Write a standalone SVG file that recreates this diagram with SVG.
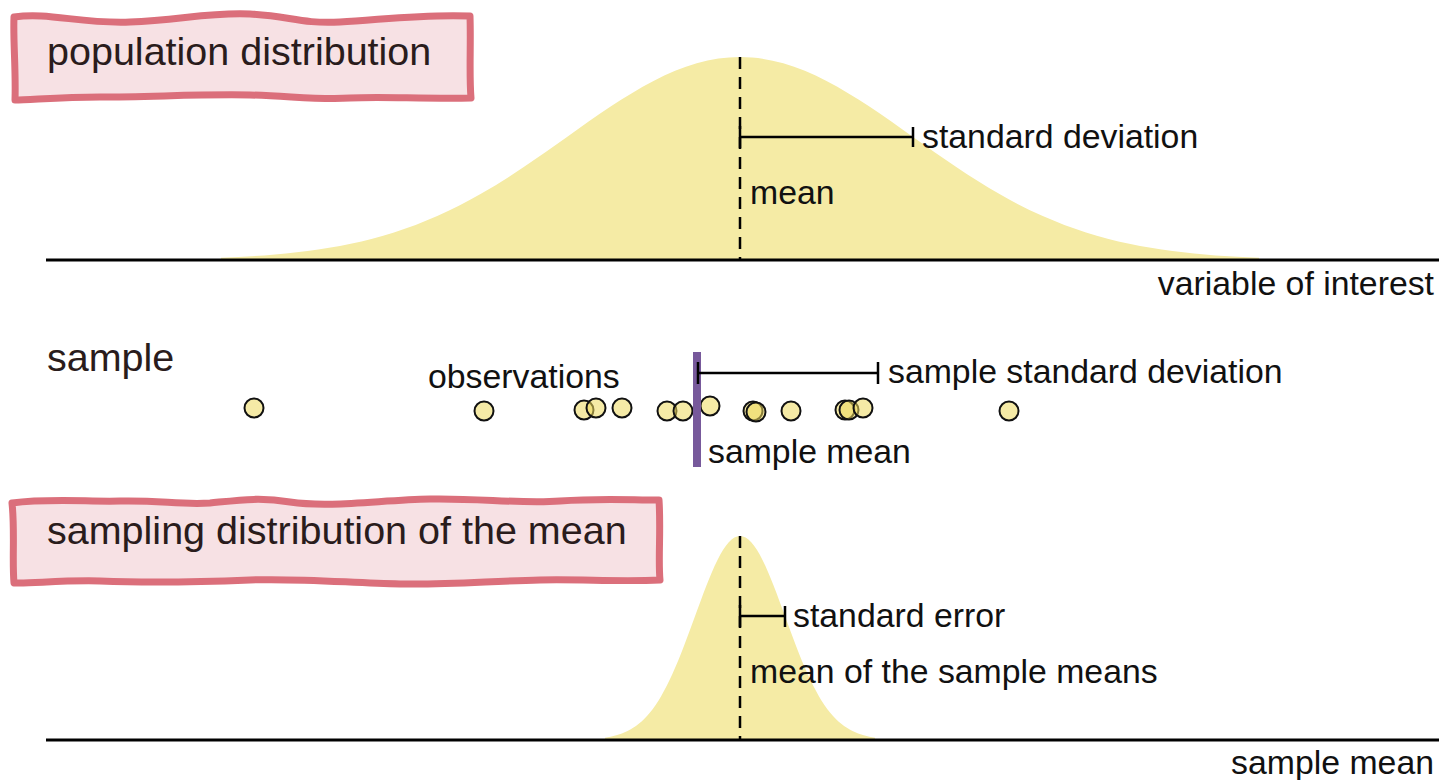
<svg xmlns="http://www.w3.org/2000/svg" width="1439" height="780" viewBox="0 0 1439 780">
<style>
.lbl{font-family:"Liberation Sans",Arial,sans-serif;font-size:33.8px;fill:#111}
.ttl{font-family:"Liberation Sans",Arial,sans-serif;font-size:39.5px;fill:#2a1c1c}
.box{fill:#f7e1e4;stroke:#db6f7b;stroke-width:7;stroke-linejoin:round}
.curve{fill:#f5eba5;stroke:none}
.axis{stroke:#000;stroke-width:3;fill:none}
.dash{stroke:#000;stroke-width:2.5;stroke-dasharray:12,8;fill:none}
.bar{stroke:#000;stroke-width:2.5;fill:none}
.obs{fill:#ecd95c;fill-opacity:0.55;stroke:#111;stroke-width:2}
</style>
<g id="population-curve">
<path class="curve" d="M221,260 L221,257.7 C235.42,257.14 249.83,256.46 264.25,255.4 S293.08,252.96 307.5,251.1 S336.33,246.83 350.75,243.8 S379.58,237.08 394,232.5 S422.83,222.5 437.25,216.1 S466.08,202.34 480.5,194.1 S509.33,176.78 523.75,167.1 S552.58,147.16 567,136.9 S595.83,116.38 610.25,106.8 S639.08,88.37 653.5,80.9 S682.33,67.4 696.75,63.3 S725.58,57 740,57 S768.83,59.2 783.25,63.3 S812.08,73.44 826.5,80.9 S855.33,97.22 869.75,106.8 S898.58,126.64 913,136.9 S941.83,157.42 956.25,167.1 S985.08,185.86 999.5,194.1 S1028.33,209.7 1042.75,216.1 S1071.58,227.92 1086,232.5 S1114.83,240.77 1129.25,243.8 S1158.08,249.24 1172.5,251.1 S1201.33,254.34 1215.75,255.4 S1244.58,257.14 1259,257.7 L1259,260 Z"/>
<line class="axis" x1="46" y1="260" x2="1439" y2="260"/>
<line class="dash" x1="740" y1="57" x2="740" y2="260"/>
</g>
<g id="population-title">
<path class="box" d="M14,17 C50,12 80,24 130,22 C180,20 210,12 250,14 C290,16 300,24 340,22 C380,20 420,14 470,16 C471,45 469,75 471,98 C420,99 380,96 350,98 C320,100 290,96 250,95 C200,94 150,97 100,97 C60,97 30,100 15,100 C16,70 13,40 14,17 Z"/>
<text class="ttl" x="47" y="65">population distribution</text>
</g>
<g id="standard-deviation">
<path class="bar" d="M740,137 H913 M740,126 V148 M913,127 V147"/>
<text class="lbl" x="922" y="148">standard deviation</text>
</g>
<g id="mean"><text class="lbl" x="750" y="204">mean</text></g>
<g id="axis-label-1"><text class="lbl" x="1434" y="295" text-anchor="end">variable of interest</text></g>
<g id="sample">
<text class="ttl" x="47" y="371">sample</text>
<text class="lbl" x="428" y="388">observations</text>
</g>
<g id="observations">
<circle class="obs" cx="254" cy="408" r="9.5"/>
<circle class="obs" cx="484" cy="411" r="9.5"/>
<circle class="obs" cx="584" cy="410" r="9.5"/>
<circle class="obs" cx="596" cy="408" r="9.5"/>
<circle class="obs" cx="622" cy="408" r="9.5"/>
<circle class="obs" cx="667" cy="411" r="9.5"/>
<circle class="obs" cx="683" cy="411" r="9.5"/>
<circle class="obs" cx="710" cy="406" r="9.5"/>
<circle class="obs" cx="753" cy="411" r="9.5"/>
<circle class="obs" cx="756" cy="412" r="9.5"/>
<circle class="obs" cx="791" cy="411" r="9.5"/>
<circle class="obs" cx="845" cy="410" r="9.5"/>
<circle class="obs" cx="849" cy="410" r="9.5"/>
<circle class="obs" cx="863" cy="408" r="9.5"/>
<circle class="obs" cx="1009" cy="411" r="9.5"/>
</g>
<g id="sample-mean">
<rect x="693" y="352" width="8" height="115" fill="#77599b"/>
<text class="lbl" x="708" y="463">sample mean</text>
</g>
<g id="sample-standard-deviation">
<path class="bar" d="M698,373 H878 M698,362 V384 M878,362 V384"/>
<text class="lbl" x="888" y="383">sample standard deviation</text>
</g>
<g id="sampling-curve">
<path class="curve" d="M605,740 L605,737.7 C608.75,737.13 612.5,736.37 616.25,735.3 S623.75,732.87 627.5,731 S635,726.85 638.75,723.8 S646.25,717 650,712.4 S657.5,702.34 661.25,695.9 S668.75,682.08 672.5,673.8 S680,656.33 683.75,646.6 S691.25,626.61 695,616.3 S702.5,595.62 706.25,586 S713.75,567.5 717.5,560 S725,546.42 728.75,542.3 S736.25,536 740,536 S747.5,538.18 751.25,542.3 S758.75,552.5 762.5,560 S770,576.38 773.75,586 S781.25,605.99 785,616.3 S792.5,636.87 796.25,646.6 S803.75,665.52 807.5,673.8 S815,689.47 818.75,695.9 S826.25,707.8 830,712.4 S837.5,720.76 841.25,723.8 S848.75,729.13 852.5,731 S860,734.23 863.75,735.3 S871.25,737.13 875,737.7 L875,740 Z"/>
<line class="axis" x1="46" y1="740" x2="1439" y2="740"/>
<line class="dash" x1="740" y1="536" x2="740" y2="740"/>
</g>
<g id="sampling-title">
<path class="box" d="M12,503 C50,498 90,502 120,501 C160,500 180,505 210,503 C240,500 260,497 290,502 C330,508 380,500 430,499 C480,498 520,504 560,501 C600,498 630,500 659,500 C661,530 658,560 660,580 C620,582 580,579 540,580 C490,581 450,585 400,584 C350,583 300,578 250,580 C200,582 150,583 100,581 C60,580 30,584 14,583 C12,560 15,530 12,503 Z"/>
<text class="ttl" x="47" y="544">sampling distribution of the mean</text>
</g>
<g id="standard-error">
<path class="bar" d="M740,616 H785 M740,605 V627 M785,606 V627"/>
<text class="lbl" x="793" y="627">standard error</text>
</g>
<g id="mean-of-sample-means"><text class="lbl" x="750" y="683">mean of the sample means</text></g>
<g id="axis-label-2"><text class="lbl" x="1434" y="774" text-anchor="end">sample mean</text></g>
</svg>
